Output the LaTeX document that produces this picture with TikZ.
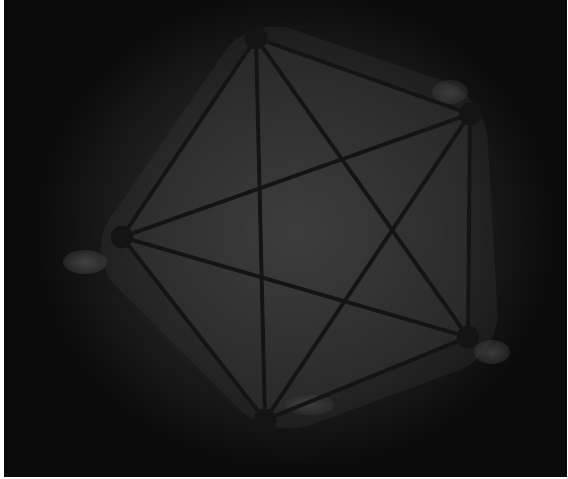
\documentclass[tikz,border=0pt]{standalone}
\usepackage{tikz}
\usetikzlibrary{positioning,calc}
\definecolor{paperdark}{HTML}{0B0B0B}
\definecolor{paperlit}{HTML}{3E3E3E}
\definecolor{inkline}{HTML}{141414}
\definecolor{glare}{HTML}{7A7A7A}

\tikzset{
  vert/.style={circle, fill=inkline, inner sep=0pt, minimum size=0.46cm},
  pen/.style={draw=inkline, line width=2.2pt, line cap=round}
}

\begin{document}
\begin{tikzpicture}[x=0.02cm, y=-0.02cm]
  % frame and dark backdrop
  \fill[white] (0,0) rectangle (568,478);
  \fill[paperdark] (4,0) rectangle (567,477);
  \useasboundingbox (0,0) rectangle (568,478);
  \begin{scope}
    \clip (4,0) rectangle (567,477);
    \shade[inner color=paperlit, outer color=paperdark] (295,230) ellipse (260 and 240);
    \fill[paperlit, opacity=0.25, rounded corners=25pt] (250,15) -- (485,95) -- (500,355) -- (270,440) -- (85,255) -- cycle;
    \fill[paperlit, opacity=0.3] (256,38) -- (470,114) -- (468,337) -- (265,420) -- (122,237) -- cycle;
    % bright spots near corners
    \shade[inner color=glare, outer color=paperlit, opacity=0.45] (85,262) ellipse (22 and 12);
    \shade[inner color=glare, outer color=paperlit, opacity=0.35] (450,92) ellipse (18 and 12);
    \shade[inner color=glare, outer color=paperlit, opacity=0.4] (492,352) ellipse (18 and 12);
    \shade[inner color=glare, outer color=paperlit, opacity=0.3] (310,405) ellipse (25 and 10);
  \end{scope}

  % vertices
  \node[vert] (vtop) at (256,38) {};
  \node[vert] (vright) at (470,114) {};
  \node[vert] (vleft) at (122,237) {};
  \node[vert] (vlow) at (468,337) {};
  \node[vert] (vbottom) at (265,420) {};

  % all ten edges
  \foreach \a/\b in {vtop/vright, vtop/vleft, vtop/vlow, vtop/vbottom,
                     vright/vleft, vright/vlow, vright/vbottom,
                     vleft/vlow, vleft/vbottom, vlow/vbottom}
    \draw[pen] (\a) -- (\b);
\end{tikzpicture}
\end{document}
